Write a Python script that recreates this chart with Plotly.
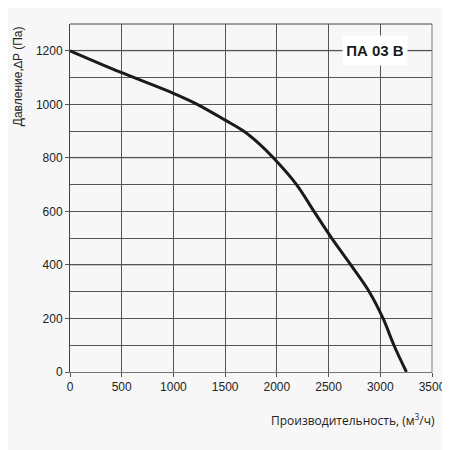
import plotly.graph_objects as go

# Fan curve
flow = [0, 500, 1000, 1230, 1500, 1678, 1830, 1966, 2190, 2359, 2530, 2715, 2893, 3027, 3132, 3253]
pressure = [1200, 1118, 1041, 1000, 941, 900, 852, 800, 700, 600, 500, 400, 300, 200, 100, 0]

x_ticks = [0, 500, 1000, 1500, 2000, 2500, 3000, 3500]
y_ticks = [0, 200, 400, 600, 800, 1000, 1200]
light_grid = [400, 800, 1200]

model_label = "ПА 03 В"
x_title = "Производительность, (м<sup>3</sup>/ч)"
y_title = "Давление,∆P (Па)"

fig = go.Figure()

fig.add_trace(go.Scatter(
    x=flow, y=pressure,
    mode="lines",
    line=dict(color="#1a1a1a", width=3, shape="spline", smoothing=1.0),
    hoverinfo="skip",
    showlegend=False,
))

# lighter grid lines, as in the original
for v in light_grid:
    fig.add_shape(type="line", xref="paper", yref="y", x0=0, x1=1, y0=v, y1=v,
                  line=dict(color="#c4c4c4", width=2), layer="below")
# light right border
fig.add_shape(type="line", xref="paper", yref="paper", x0=1, x1=1, y0=0, y1=1,
              line=dict(color="#b8b8b8", width=2), layer="below")
# top border
fig.add_shape(type="line", xref="paper", yref="paper", x0=0, x1=1, y0=1, y1=1,
              line=dict(color="#444", width=1), layer="below")

fig.add_annotation(
    x=0.842, y=1200, xref="paper", yref="y",
    xanchor="center", yanchor="middle",
    text="<b>" + model_label + "</b>",
    showarrow=False, bgcolor="white", borderpad=4,
    width=56, height=21,
    font=dict(family="Liberation Sans, Arial", size=15, color="#1a1a1a"),
)
fig.add_annotation(
    x=1.014, y=-0.139, xref="paper", yref="paper",
    xanchor="right", yanchor="middle",
    text=x_title, showarrow=False,
    font=dict(family="Open Sans, Liberation Sans", size=12, color="#222"),
)
fig.add_annotation(
    x=-0.168, y=1.0, xref="paper", yref="paper",
    xanchor="left", yanchor="top", textangle=-90,
    text=y_title, showarrow=False,
    font=dict(family="Liberation Sans, Arial", size=12, color="#222"),
)

fig.update_xaxes(
    range=[0, 3500], tickvals=x_ticks, ticktext=[str(t) for t in x_ticks],
    showgrid=True, gridcolor="#555", gridwidth=1,
    zeroline=False, showline=True, linecolor="#777", linewidth=1,
    ticks="outside", ticklen=4, tickcolor="#555",
    tickfont=dict(family="Liberation Sans, Arial", size=12, color="#222"),
)
fig.update_yaxes(
    range=[0, 1300], tickvals=y_ticks, ticktext=[str(t) for t in y_ticks],
    showgrid=True, gridcolor="#555", gridwidth=1,
    minor=dict(dtick=100, showgrid=True, gridcolor="#555", gridwidth=1),
    zeroline=False, showline=True, linecolor="#444", linewidth=1,
    ticks="outside", ticklen=4, tickcolor="#555",
    tickfont=dict(family="Liberation Sans, Arial", size=12, color="#222"),
)

# the page body adds 8px, so margins are shifted accordingly
fig.update_layout(
    width=450, height=450,
    margin=dict(l=62, r=23, t=16, b=86),
    paper_bgcolor="#f7f7f7", plot_bgcolor="#f7f7f7",
)

fig.write_html("out.html", config={"displayModeBar": False})
